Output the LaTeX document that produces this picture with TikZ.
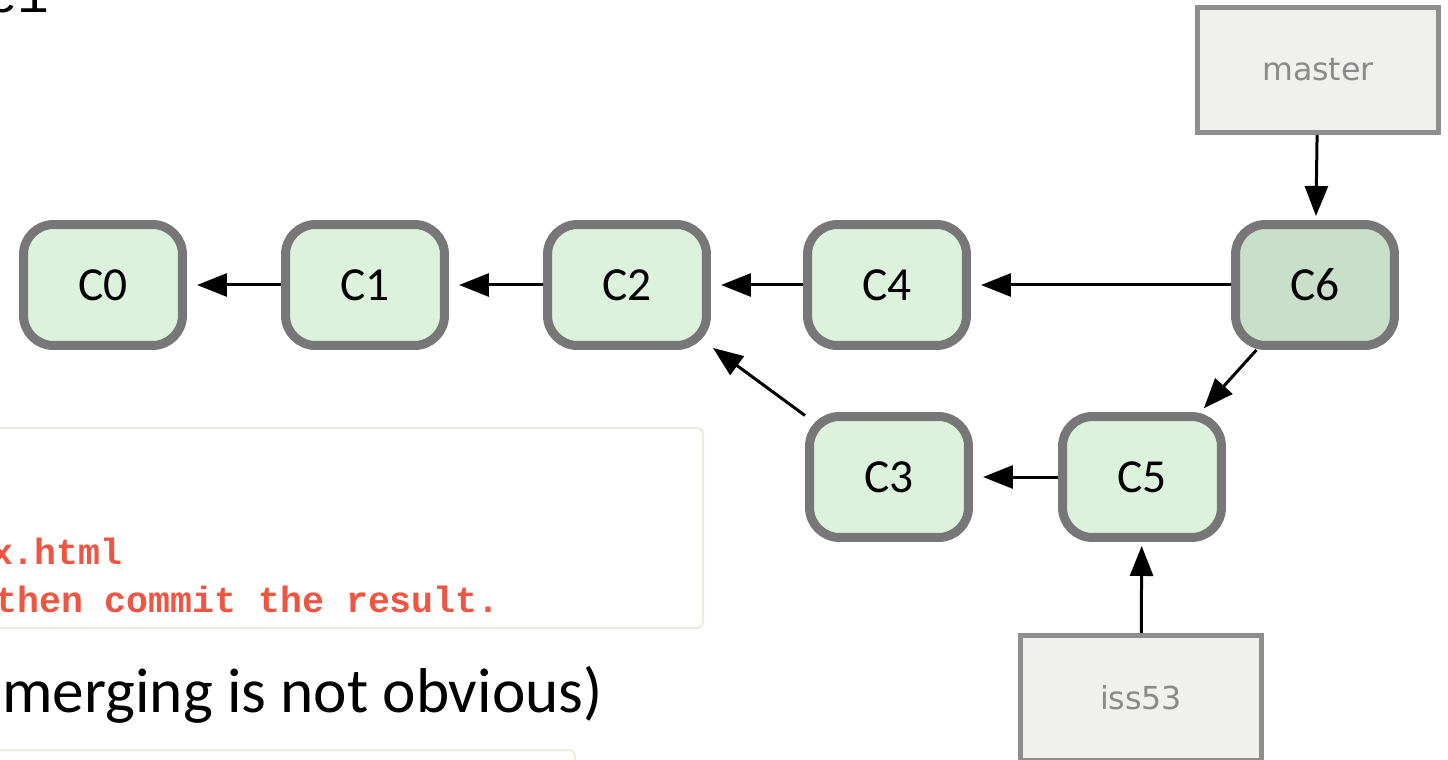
\documentclass[tikz,border=0pt]{standalone}
\usepackage{fontspec}
\setmainfont{Carlito}
\newfontfamily\labelfont{DejaVu Sans}
\newfontfamily\codefont{Liberation Mono}
\usetikzlibrary{arrows.meta}

\definecolor{commitfill}{HTML}{DCF2DD}
\definecolor{headfill}{HTML}{C8DFCA}
\definecolor{commitline}{HTML}{777777}
\definecolor{branchfill}{HTML}{F0F1EF}
\definecolor{branchline}{HTML}{8E8E8E}
\definecolor{branchtext}{HTML}{8A8A8A}
\definecolor{codered}{HTML}{EE5542}
\definecolor{boxline}{HTML}{EBEBE4}

\begin{document}
\begin{tikzpicture}[x=0.02cm,y=-0.02cm,
    commit/.style={draw=commitline,fill=commitfill,line width=0.18cm,
      rounded corners=0.6cm,minimum width=3.18cm,minimum height=2.42cm,
      font=\fontsize{27}{27}\selectfont},
    branch/.style={draw=branchline,fill=branchfill,line width=0.1cm,
      minimum width=4.84cm,minimum height=2.5cm,text=branchtext,
      font=\labelfont\fontsize{18}{18}\selectfont},
    link/.style={line width=0.06cm,-{Triangle[length=0.6cm,width=0.46cm]},
      shorten >=0.2cm},
    codebox/.style={draw=boxline,line width=0.04cm,rounded corners=0.12cm,fill=white},
    codeline/.style={text=codered,inner sep=0pt,anchor=base east,
      font=\codefont\bfseries\fontsize{20.8}{20.8}\selectfont}]
      \useasboundingbox (0,0) rectangle (1448,760);
      % text around the graph
      \node[anchor=base west,inner sep=0pt,font=\codefont\fontsize{30}{30}\selectfont] (cmd) at (-14,13) {e1};
      \draw[codebox] (-20,428) rectangle (703,628);
      \node[codeline] (file) at (123,564) {x.html};
      \node[codeline] (hint) at (500,612) {then commit the result.};
      \node[anchor=base west,inner sep=0pt,font=\fontsize{36}{36}\selectfont] (note) at (2,712) {merging is not obvious)};
      \draw[codebox] (-20,750) rectangle (575,800);
      % commits
      \node[commit] (C0) at (103,285) {C0};
      \node[commit] (C1) at (365,285) {C1};
      \node[commit] (C2) at (627,285) {C2};
      \node[commit] (C4) at (887,285) {C4};
      \node[commit,fill=headfill] (C6) at (1315,285) {C6};
      \node[commit] (C3) at (889,477) {C3};
      \node[commit] (C5) at (1142,477) {C5};
      % branches
      \node[branch] (master) at (1318,70) {master};
      \node[branch] (iss53) at (1141,698) {iss53};
      \begin{scope}[link]
        \draw (C1) to (C0);
        \draw (C2) to (C1);
        \draw (C4) to (C2);
        \draw (C6) to (C4);
        \draw[shorten >=0.05cm] (C3) to (C2);
        \draw[shorten >=0.1cm] (C6) to (C5);
        \draw (C5) to (C3);
        \draw[shorten >=0.08cm] (master) to (C6);
        \draw[shorten >=0.08cm] (iss53) to (C5);
      \end{scope}
    \end{tikzpicture}
\end{document}
